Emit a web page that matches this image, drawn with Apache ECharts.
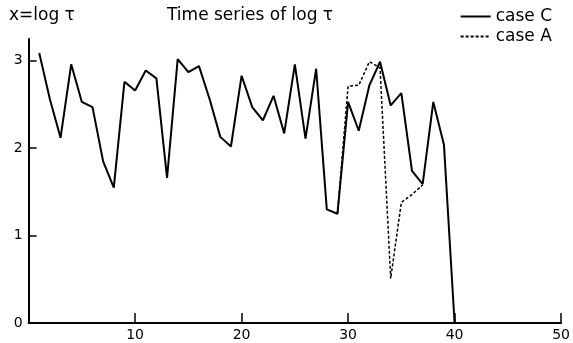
<!DOCTYPE html>
<html>
<head>
<meta charset="utf-8">
<script src="https://cdn.jsdelivr.net/npm/echarts@6/dist/echarts.min.js"></script>
<style>
  html, body { margin: 0; padding: 0; background: #fff; }
  #chart { width: 573px; height: 343px; }
</style>
</head>
<body>
<div id="chart"></div>
<script>
// time steps and log tau values
const steps = [1, 2, 3, 4, 5, 6, 7, 8, 9, 10, 11, 12, 13, 14, 15, 16, 17, 18, 19, 20,
  21, 22, 23, 24, 25, 26, 27, 28, 29, 30, 31, 32, 33, 34, 35, 36, 37, 38, 39, 40]
const caseC = [3.09, 2.56, 2.12, 2.96, 2.53, 2.47, 1.85, 1.55, 2.76, 2.66,
  2.89, 2.80, 1.66, 3.02, 2.87, 2.94, 2.56, 2.13, 2.02, 2.83,
  2.47, 2.32, 2.60, 2.17, 2.96, 2.11, 2.91, 1.30, 1.25, 2.53,
  2.20, 2.72, 2.99, 2.49, 2.63, 1.74, 1.59, 2.53, 2.04, 0.00]
// case A only differs between steps 29 and 37
const stepsA = [29, 30, 31, 32, 33, 34, 35, 36, 37]
const caseA = [1.25, 2.71, 2.72, 2.99, 2.92, 0.51, 1.38, 1.47, 1.58]

const xTicks = [10, 20, 30, 40, 50]
const yTicks = [0, 1, 2, 3]

const font = 'DejaVu Sans'
const myChart = echarts.init(document.getElementById('chart'))

const titleStyle = { fontSize: 17, fontWeight: 'normal', color: '#000', fontFamily: font }

const option = {
  animation: false,
  color: ['#000', '#000'],
  textStyle: { fontFamily: font, color: '#000' },
  title: [
    { text: 'x=log τ', left: 4, top: 2, textStyle: titleStyle },
    { text: 'Time series of log τ', left: 162, top: 2, textStyle: titleStyle }
  ],
  legend: {
    orient: 'vertical',
    right: 16,
    top: 3,
    itemWidth: 30,
    itemHeight: 10,
    itemGap: 3,
    itemStyle: { opacity: 0 }, // line only, no symbol
    textStyle: { fontSize: 17, color: '#000', fontFamily: font },
    data: ['case C', 'case A']
  },
  grid: { left: 28.6, right: 11.4, top: 39, bottom: 20 },
  xAxis: {
    type: 'value',
    min: 0,
    max: 50,
    splitLine: { show: false },
    axisLine: { lineStyle: { color: '#000', width: 2 } },
    axisTick: {
      inside: true,
      length: 10,
      customValues: xTicks,
      lineStyle: { color: '#000', width: 1.5 }
    },
    axisLabel: {
      customValues: xTicks,
      margin: 5,
      fontSize: 14,
      color: '#000',
      fontFamily: font
    }
  },
  yAxis: {
    type: 'value',
    min: 0,
    max: 3.25,
    splitLine: { show: false },
    axisLine: { show: true, lineStyle: { color: '#000', width: 2 } },
    axisTick: {
      show: true,
      inside: true,
      length: 8,
      customValues: yTicks,
      lineStyle: { color: '#000', width: 1.5 }
    },
    axisLabel: {
      customValues: yTicks,
      margin: 6,
      fontSize: 14,
      color: '#000',
      fontFamily: font
    }
  },
  series: [
    {
      name: 'case C',
      type: 'line',
      data: steps.map((t, i) => [t, caseC[i]]),
      symbol: 'none',
      lineStyle: { color: '#000', width: 2 },
      z: 3
    },
    {
      name: 'case A',
      type: 'line',
      data: stepsA.map((t, i) => [t, caseA[i]]),
      symbol: 'none',
      lineStyle: { color: '#000', width: 1.5, type: [3, 2] },
      z: 2
    }
  ]
}

myChart.setOption(option)
</script>
</body>
</html>
